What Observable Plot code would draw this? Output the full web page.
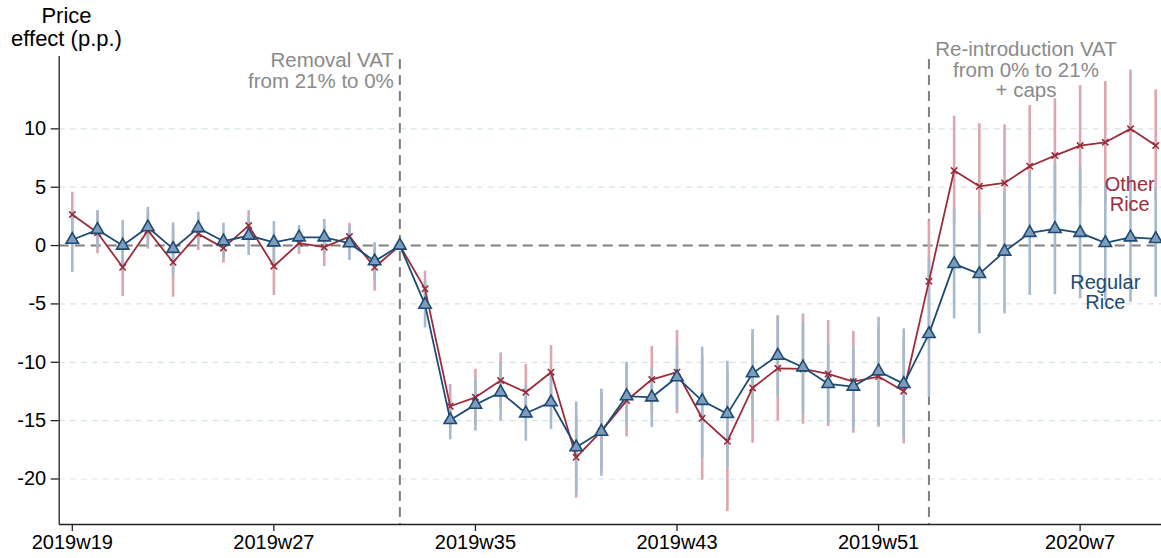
<!DOCTYPE html>
<html><head><meta charset="utf-8">
<script src="https://cdn.jsdelivr.net/npm/d3@7"></script>
<script src="https://cdn.jsdelivr.net/npm/@observablehq/plot@0.6"></script>
<style>body{margin:0;background:#fff;}</style>
</head><body><div id="chart"></div>
<script>
const weeks = ["2019w19","2019w20","2019w21","2019w22","2019w23","2019w24","2019w25","2019w26","2019w27","2019w28",
  "2019w29","2019w30","2019w31","2019w32","2019w33","2019w34","2019w35","2019w36","2019w37","2019w38",
  "2019w39","2019w40","2019w41","2019w42","2019w43","2019w44","2019w45","2019w46","2019w47","2019w48",
  "2019w49","2019w50","2019w51","2019w52","2020w1","2020w2","2020w3","2020w4","2020w5","2020w6",
  "2020w7","2020w8","2020w9","2020w10"];
const regular = [0.5, 1.35, 0.0, 1.57, -0.28, 1.5, 0.37, 0.86, 0.28, 0.71, 0.71, 0.2, -1.34, 0,
  -5.06, -14.94, -13.63, -12.57, -14.37, -13.42, -17.28, -15.94, -12.9, -13.0, -11.28, -13.3, -14.42,
  -10.94, -9.43, -10.43, -11.85, -12.08, -10.77, -11.85, -7.57, -1.57, -2.43, -0.51, 1.09, 1.43, 1.09, 0.23, 0.71, 0.57];
const regularLo = [-2.29, -0.3, -2.14, -0.14, -2.57, 0.14, -1.2, -0.86, -1.5, -0.29, -0.8, -1.29, -2.91, NaN,
  -7.05, -16.65, -15.9, -15.05, -16.77, -15.77, -21.3, -19.77, -15.6, -15.6, -14.0, -18.2, -19.05,
  -14.85, -13.0, -14.5, -15.2, -15.7, -15.57, -16.5, -13.0, -6.28, -7.57, -5.86, -4.28, -4.2, -4.57, -4.71, -4.86, -4.43];
const regularHi = [3.0, 3.0, 2.14, 3.28, 1.94, 2.86, 1.91, 2.43, 2.06, 1.71, 2.23, 1.69, 0.23, NaN,
  -3.06, -13.23, -11.4, -10.1, -12.0, -11.07, -13.4, -12.3, -10.0, -10.57, -8.57, -8.71, -9.91,
  -7.2, -6.08, -6.57, -8.5, -8.71, -6.14, -7.14, -1.14, 3.14, 2.71, 4.57, 6.28, 7.0, 6.7, 5.4, 6.0, 5.0];
const other = [2.66, 1.1, -1.86, 1.3, -1.43, 1.0, -0.2, 1.71, -1.77, 0.2, -0.14, 0.77, -1.86, 0,
  -3.71, -13.77, -13.0, -11.57, -12.57, -10.85, -18.14, -15.9, -13.28, -11.48, -10.85, -14.8, -16.77,
  -12.2, -10.52, -10.57, -11.0, -11.65, -11.22, -12.48, -3.06, 6.43, 5.08, 5.37, 6.8, 7.71, 8.57, 8.85, 10.0, 8.57];
const otherLo = [0.75, -0.71, -4.37, -0.3, -4.43, -0.43, -1.51, 0.42, -4.28, -0.77, -1.8, -0.37, -3.91, NaN,
  -5.2, -15.6, -15.4, -13.9, -14.9, -13.1, -21.65, -19.3, -16.4, -14.3, -14.4, -20.1, -22.8,
  -16.94, -15.05, -15.3, -15.5, -16.08, -15.4, -17.0, -8.3, 1.8, -0.3, 0.4, 1.6, 2.85, 3.4, 3.6, 4.9, 3.8];
const otherHi = [4.57, 2.9, 0.65, 2.9, 1.57, 2.43, 1.1, 3.0, 0.74, 1.17, 1.52, 1.91, 0.19, NaN,
  -2.2, -11.9, -10.6, -9.2, -10.2, -8.57, -14.6, -12.6, -10.2, -8.65, -7.28, -9.5, -10.8,
  -7.5, -6.0, -5.86, -6.43, -7.37, -7.0, -7.9, 2.14, 11.08, 10.43, 10.34, 12.0, 12.57, 13.71, 14.05, 15.05, 13.34];
const xTickLabels = ["2019w19","2019w27","2019w35","2019w43","2019w51","2020w7"];
const yTicks = [-20, -15, -10, -5, 0, 5, 10];
const eventWeeks = ["2019w32", "2020w1"];
const eventLabels = ["Removal VAT\nfrom 21% to 0%", "Re-introduction VAT\nfrom 0% to 21%\n+ caps"];
const seriesLabels = ["Other\nRice", "Regular\nRice"];
const yTitle = "Price\neffect (p.p.)";

const RED = "#9b2d3b", BLUE = "#1e4a74";
const xDomain = [-0.52, 43.23], yDomain = [-23.9, 16.2];
const data = weeks.map((w, i) => ({i, w, regular: regular[i], rLo: regularLo[i], rHi: regularHi[i],
  other: other[i], oLo: otherLo[i], oHi: otherHi[i]}));
const ci = data.filter(d => Number.isFinite(d.rLo));
const idx = w => weeks.indexOf(w);
const last = weeks.length - 1;

const chart = Plot.plot({
  width: 1161, height: 558,
  marginLeft: 58.7, marginRight: 0, marginTop: 56, marginBottom: 34,
  style: {fontFamily: "'Liberation Sans', Arial, sans-serif", fontSize: "20px", background: "#fff", color: "#000"},
  x: {type: "linear", domain: xDomain},
  y: {domain: yDomain},
  marks: [
    Plot.gridY(yTicks.filter(d => d !== 0), {stroke: "#d5e5e7", strokeOpacity: 1, strokeWidth: 1.2, strokeDasharray: "6,5"}),
    Plot.ruleY([0], {stroke: "#7f7f7f", strokeWidth: 2, strokeDasharray: "10,6"}),
    Plot.ruleX(eventWeeks, {x: d => idx(d), stroke: "#7f7f7f", strokeWidth: 2, strokeDasharray: "10,6", insetTop: 3}),
    Plot.ruleX(ci, {x: "i", y1: "oLo", y2: "oHi", stroke: "#dba6ad", strokeWidth: 2.6}),
    Plot.ruleX(ci, {x: "i", y1: "rLo", y2: "rHi", stroke: "#a6bacd", strokeWidth: 2.6}),
    Plot.line(data, {x: "i", y: "other", stroke: RED, strokeWidth: 1.8}),
    Plot.line(data, {x: "i", y: "regular", stroke: BLUE, strokeWidth: 1.8}),
    Plot.dot(data, {x: "i", y: "other", symbol: "times", r: 3, stroke: RED, strokeWidth: 1.6}),
    Plot.dot(data, {x: "i", y: "regular", symbol: "triangle", r: 4.6, fill: "#7d9dbc", stroke: BLUE, strokeWidth: 1.6}),
    Plot.ruleX([xDomain[0]], {stroke: "#222", strokeWidth: 1.3}),
    Plot.ruleY([yDomain[0]], {stroke: "#222", strokeWidth: 1.3}),
    Plot.axisY({ticks: yTicks, tickSize: 8, tickPadding: 5, tickFormat: d => String(d), label: null, fontSize: 20, stroke: "#222", strokeWidth: 1.3}),
    Plot.axisX({ticks: xTickLabels.map(idx), tickFormat: i => weeks[i], tickSize: 7, tickPadding: 3, label: null, fontSize: 20, stroke: "#222", strokeWidth: 1.3}),
    Plot.text([eventLabels[0]], {x: idx(eventWeeks[0]), frameAnchor: "top", textAnchor: "end", lineAnchor: "top", dx: -6, dy: -4, fill: "#8a8a8a", fontSize: 20.5, lineHeight: 1.02}),
    Plot.text([eventLabels[1]], {x: idx(eventWeeks[1]), frameAnchor: "top", textAnchor: "middle", lineAnchor: "top", dx: 97, dy: -15.7, fill: "#8a8a8a", fontSize: 20.5, lineHeight: 1.02}),
    Plot.text([seriesLabels[0]], {x: last, y: other[last], textAnchor: "middle", lineAnchor: "top", dx: -26, dy: 30.7, fill: RED, fontSize: 20, lineHeight: 1.02}),
    Plot.text([seriesLabels[1]], {x: last, y: regular[last], textAnchor: "middle", lineAnchor: "top", dx: -50.4, dy: 35.7, fill: BLUE, fontSize: 20, lineHeight: 1.02}),
    Plot.text([yTitle], {frameAnchor: "top-left", textAnchor: "middle", lineAnchor: "top", dx: 7.3, dy: -49.4, fill: "#000", fontSize: 22, lineHeight: 1.03})
  ]
});
document.getElementById("chart").appendChild(chart);
</script>
</body></html>
